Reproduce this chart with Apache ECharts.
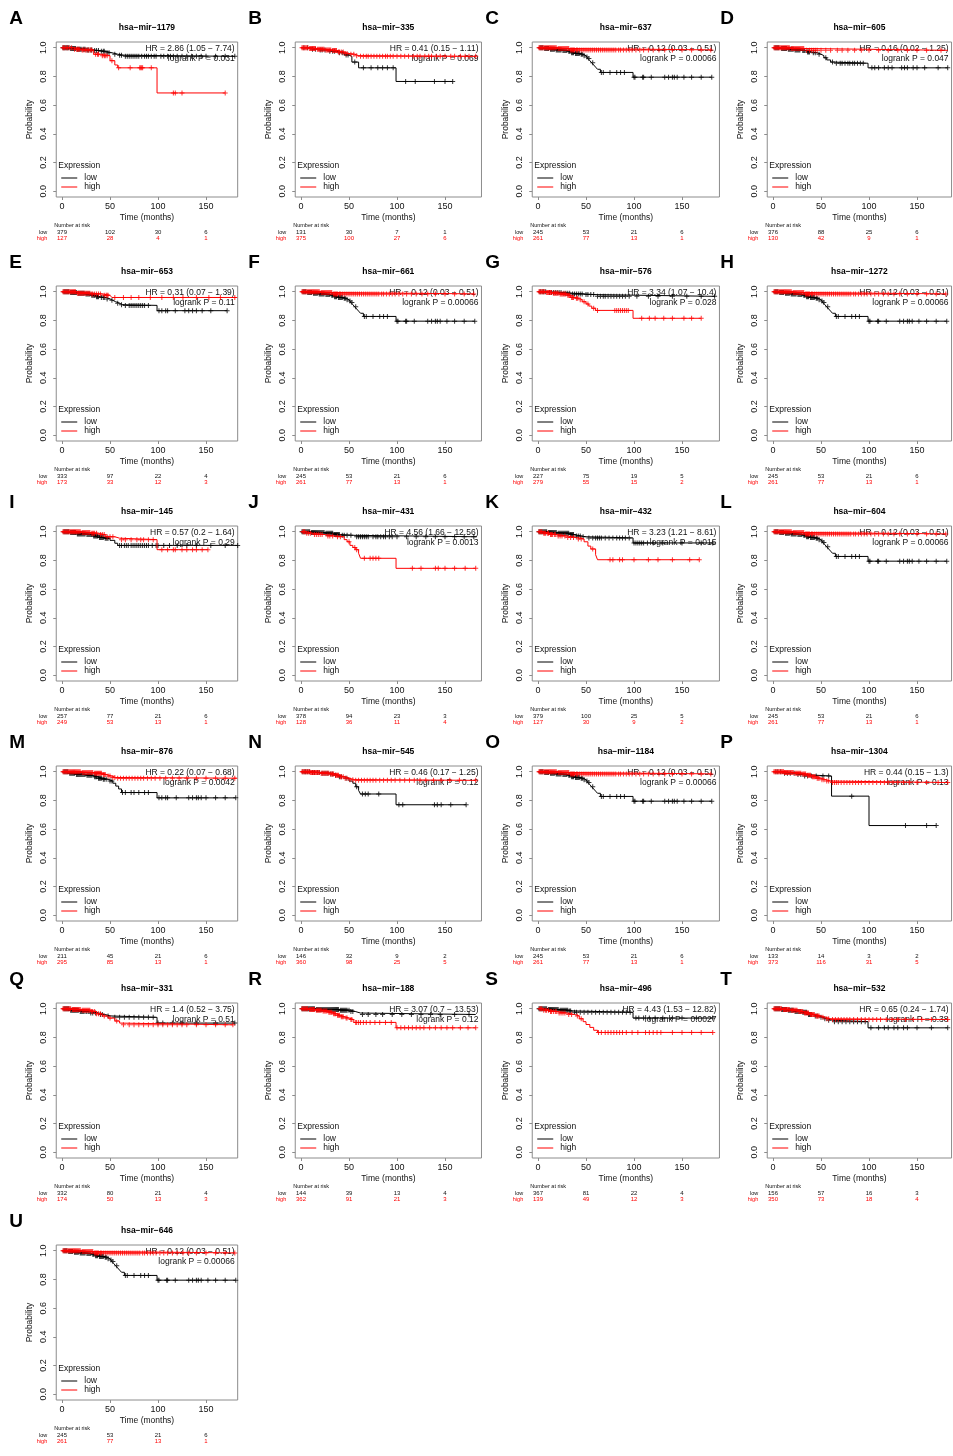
<!DOCTYPE html>
<html><head><meta charset="utf-8">
<script src="https://cdn.jsdelivr.net/npm/echarts@6/dist/echarts.min.js"></script>
<style>html,body{margin:0;padding:0;background:#fff}#c{width:953px;height:1456px}</style>
</head><body><div id="c"></div>
<script>
// ---------------- DATA ----------------
const panelLetters = ['A','B','C','D','E','F','G','H','I','J','K','L','M','N','O','P','Q','R','S','T','U'];
const mirNames = ['1179','335','637','605','653','661','576','1272','145','431','432','604','876','545','1184','1304','331','188','496','532','646'];
const hrTexts = ['2.86 (1.05 − 7.74)','0.41 (0.15 − 1.11)','0.12 (0.03 − 0.51)','0.16 (0.02 − 1.25)','0.31 (0.07 − 1.39)','0.12 (0.03 − 0.51)','3.34 (1.07 − 10.4)','0.12 (0.03 − 0.51)','0.57 (0.2 − 1.64)','4.56 (1.66 − 12.56)','3.23 (1.21 − 8.61)','0.12 (0.03 − 0.51)','0.22 (0.07 − 0.68)','0.46 (0.17 − 1.25)','0.12 (0.03 − 0.51)','0.44 (0.15 − 1.3)','1.4 (0.52 − 3.75)','3.07 (0.7 − 13.53)','4.43 (1.53 − 12.82)','0.65 (0.24 − 1.74)','0.12 (0.03 − 0.51)'];
const pTexts = ['0.031','0.069','0.00066','0.047','0.11','0.00066','0.028','0.00066','0.29','0.0013','0.015','0.00066','0.0042','0.12','0.00066','0.13','0.51','0.12','0.0027','0.38','0.00066'];
const riskTimes = [0,50,100,150];
const riskLow = [[379,102,30,6],[131,30,7,1],[245,53,21,6],[376,88,25,6],[333,97,22,4],[245,53,21,6],[227,75,19,5],[245,53,21,6],[257,77,21,6],[378,94,23,3],[379,100,25,5],[245,53,21,6],[211,45,21,6],[146,32,9,2],[245,53,21,6],[133,14,3,2],[332,80,21,4],[144,39,13,4],[367,81,22,4],[156,57,16,3],[245,53,21,6]];
const riskHigh = [[127,28,4,1],[375,100,27,6],[261,77,13,1],[130,42,9,1],[173,33,12,3],[261,77,13,1],[279,55,15,2],[261,77,13,1],[249,53,13,1],[128,36,11,4],[127,30,9,2],[261,77,13,1],[295,85,13,1],[360,98,25,5],[261,77,13,1],[373,116,31,5],[174,50,13,3],[362,91,21,3],[139,49,12,3],[350,73,18,4],[261,77,13,1]];
const xTicks = [0,50,100,150];
const yTicks = [0,0.2,0.4,0.6,0.8,1.0];

// shared curve (C, F, H, L, O, U)
const SH_LOW_STEPS = [[6,0.995],[12,0.99],[18,0.985],[25,0.98],[31,0.975],[34,0.965],[38,0.96],[44,0.955],[47,0.945],[50,0.935],[52,0.925],[54,0.91],[56,0.895],[58,0.88],[60,0.865],[62,0.85],[65,0.828],[99,0.795]];
const SH_LOW_CENS = [2,3,4,5,7,8,9,10,11,13,14,15,16,17,19,20,21,22,23,24,26,27,28,29,30,32,33,35,36,37,39,40,41,42,43,45,46,48,51,53,57,66,68,75,82,86,90,100,101,109,110,118,132,136,140,142,145,152,160,170,181];
const SH_HIGH_STEPS = [[20,0.995],[33,0.985]];
const SH_HIGH_CENS = [1,2,3,4,5,6,7,8,9,10,11,12,13,14,15,16,17,18,19,21,22,23,24,25,26,27,28,29,30,31,32,34,35,36,37,38,40,41,43,45,47,49,51,53,55,57,59,61,63,65,67,69,71,73,75,77,79,81,84,86,89,92,95,98,102,106,110,115,120,126,132,140,150,160,170,180];

const lowSteps = [
 [[8,0.995],[15,0.99],[25,0.985],[33,0.98],[40,0.975],[46,0.965],[52,0.955],[58,0.948],[64,0.94]],
 [[10,0.99],[18,0.985],[27,0.975],[37,0.965],[45,0.95],[50,0.94],[53,0.9],[60,0.86],[99,0.765]],
 SH_LOW_STEPS,
 [[8,0.995],[15,0.99],[22,0.985],[30,0.98],[35,0.97],[40,0.965],[46,0.955],[50,0.945],[53,0.93],[56,0.915],[60,0.9],[63,0.892],[99,0.86]],
 [[8,0.995],[16,0.99],[24,0.985],[30,0.975],[35,0.965],[40,0.96],[46,0.95],[50,0.94],[53,0.93],[56,0.92],[60,0.91],[63,0.905],[99,0.868]],
 SH_LOW_STEPS,
 [[10,0.995],[25,0.99],[35,0.985],[48,0.98],[60,0.968]],
 SH_LOW_STEPS,
 [[8,0.995],[15,0.985],[25,0.98],[32,0.97],[38,0.96],[44,0.955],[50,0.94],[55,0.92],[58,0.905]],
 [[10,0.995],[25,0.99],[34,0.98],[42,0.975],[55,0.965]],
 [[10,0.995],[20,0.99],[33,0.98],[38,0.97],[45,0.965],[50,0.957],[99,0.922]],
 SH_LOW_STEPS,
 [[7,0.99],[14,0.98],[25,0.975],[33,0.965],[37,0.955],[42,0.948],[48,0.935],[53,0.92],[56,0.9],[59,0.88],[62,0.855],[99,0.818]],
 [[10,0.995],[20,0.99],[30,0.985],[35,0.975],[38,0.965],[45,0.955],[50,0.935],[54,0.92],[57,0.895],[60,0.87],[62,0.845],[99,0.77]],
 SH_LOW_STEPS,
 [[10,0.99],[25,0.98],[32,0.97],[61,0.83],[100,0.625]],
 [[8,0.99],[18,0.98],[30,0.97],[38,0.96],[45,0.95],[50,0.94],[99,0.9]],
 [[15,0.995],[40,0.99],[52,0.98],[57,0.97],[62,0.96]],
 [[10,0.995],[22,0.99],[32,0.985],[36,0.975],[99,0.935]],
 [[8,0.995],[15,0.99],[22,0.98],[30,0.975],[36,0.96],[42,0.95],[48,0.94],[52,0.93],[56,0.92],[62,0.91],[99,0.867]],
 SH_LOW_STEPS
];
const lowEnds = [180,158,181,182,172,181,184,181,183,183,182,181,181,172,181,170,180,182,182,182,181];
const lowCens = [
 [1,2,3,4,5,6,7,9,10,11,12,13,14,16,17,18,19,20,22,23,24,26,27,28,30,31,34,36,38,41,43,44,47,49,55,60,62,66,68,70,72,74,76,78,80,83,86,88,90,93,96,98,103,106,110,113,116,120,125,130,135,140,145,150,160,170,180],
 [3,7,12,15,20,22,25,30,33,35,40,43,47,49,56,65,73,80,85,90,96,109,119,139,150,158],
 SH_LOW_CENS,
 [2,3,4,5,6,9,10,11,12,13,14,16,17,18,19,20,21,23,24,25,26,27,28,31,32,33,36,37,38,42,44,48,55,62,66,70,72,75,78,80,83,85,88,91,94,103,106,110,116,120,124,134,137,140,146,150,158,172,182],
 [2,3,4,5,6,7,9,10,11,12,13,14,15,17,18,19,20,21,22,23,25,26,27,28,29,31,32,33,34,36,37,38,41,43,44,47,52,58,62,66,70,72,74,76,78,80,82,84,86,90,101,104,108,110,118,128,132,136,140,146,155,172],
 SH_LOW_CENS,
 [2,3,5,6,8,12,14,16,18,20,22,24,27,29,31,33,36,38,40,42,44,46,50,52,55,58,62,65,68,70,73,76,79,82,85,88,91,95,103,115,125,140,155,170,184],
 SH_LOW_CENS,
 [2,3,4,5,6,7,9,10,11,12,13,14,16,17,18,19,20,21,22,23,24,26,27,28,29,30,31,33,34,35,36,37,39,40,41,42,43,45,46,47,48,60,62,65,67,69,72,74,76,78,80,82,84,86,88,90,94,98,100,106,112,120,130,140,155,170,183],
 [1,2,3,4,5,6,7,8,9,11,12,13,14,15,16,17,18,19,20,21,22,23,24,26,27,28,29,30,31,32,33,35,36,37,38,39,40,43,45,48,52,58,60,62,64,66,68,70,75,78,80,83,86,88,92,95,100,110,120,130,140,150,160,170,180],
 [1,2,3,4,5,6,7,8,9,11,12,13,14,15,16,17,18,19,21,22,23,24,25,26,27,28,29,30,31,32,34,35,36,37,40,42,44,47,53,57,60,62,64,66,70,74,78,82,85,88,91,95,100,102,104,106,108,110,114,120,130,150,170,182],
 SH_LOW_CENS,
 [2,3,4,5,6,8,9,10,11,12,13,15,16,17,18,19,20,21,22,23,24,26,27,28,29,30,31,34,35,36,38,39,40,41,43,44,46,50,52,63,66,72,75,80,86,90,101,104,108,110,119,132,136,140,142,145,150,160,170,181],
 [2,4,5,7,9,12,14,17,19,22,24,26,28,31,33,36,40,42,47,58,64,67,70,81,102,106,139,142,146,156,172],
 SH_LOW_CENS,
 [3,5,8,12,15,18,22,26,29,33,36,40,45,52,58,82,138,160,170],
 [2,3,4,5,6,7,9,10,11,12,13,14,15,16,17,19,20,21,22,23,25,26,28,30,32,35,40,42,48,55,60,65,70,75,80,85,90,95,100,105,115,125,140,160,180],
 [1,2,3,4,5,6,7,8,9,10,11,12,13,14,16,17,18,19,20,21,22,23,24,25,26,27,28,29,30,31,32,33,34,35,36,37,38,39,41,42,43,44,45,46,47,48,50,52,54,64,70,78,85,95,105,115,125,135,145,160,175],
 [1,2,3,4,5,6,7,8,9,11,12,13,14,15,16,17,18,19,20,21,23,24,25,26,27,28,29,30,31,33,34,38,40,44,48,52,56,60,64,68,72,76,80,84,88,92,96,102,105,110,116,122,130,140,150,165,182],
 [2,3,4,5,6,7,9,10,11,12,13,14,16,17,18,19,20,21,23,24,25,26,27,28,29,31,32,33,34,35,37,38,39,40,44,46,50,54,58,64,68,72,76,80,84,88,92,96,102,110,116,120,126,130,136,140,150,165,182],
 SH_LOW_CENS
];

const highSteps = [
 [[12,0.99],[20,0.985],[33,0.955],[40,0.945],[50,0.91],[55,0.88],[58,0.86],[99,0.685]],
 [[8,0.995],[16,0.99],[25,0.985],[32,0.98],[38,0.97],[45,0.96],[50,0.955],[56,0.945],[60,0.94]],
 SH_HIGH_STEPS,
 [[18,0.995],[33,0.982]],
 [[15,0.99],[30,0.985],[42,0.975],[50,0.965],[52,0.96]],
 SH_HIGH_STEPS,
 [[8,0.995],[15,0.99],[22,0.985],[30,0.975],[34,0.96],[38,0.955],[43,0.945],[46,0.93],[50,0.915],[53,0.9],[56,0.885],[60,0.87],[99,0.815]],
 SH_HIGH_STEPS,
 [[20,0.995],[30,0.99],[38,0.98],[45,0.965],[55,0.955],[60,0.945],[99,0.875]],
 [[5,0.99],[12,0.98],[25,0.97],[35,0.965],[45,0.945],[48,0.93],[51,0.905],[54,0.89],[57,0.875],[60,0.85],[62,0.815],[99,0.745]],
 [[5,0.99],[12,0.98],[20,0.97],[30,0.96],[40,0.95],[48,0.93],[52,0.9],[55,0.88],[60,0.84],[62,0.805]],
 SH_HIGH_STEPS,
 [[20,0.995],[33,0.99],[42,0.98],[47,0.97],[52,0.96],[56,0.955]],
 [[10,0.995],[20,0.99],[30,0.985],[35,0.975],[40,0.965],[45,0.955],[50,0.945],[56,0.94]],
 SH_HIGH_STEPS,
 [[12,0.995],[22,0.99],[30,0.985],[35,0.975],[40,0.965],[45,0.955],[50,0.945],[55,0.935],[60,0.925]],
 [[10,0.995],[20,0.99],[30,0.98],[36,0.965],[42,0.95],[48,0.935],[55,0.915],[60,0.9],[62,0.888]],
 [[8,0.995],[15,0.99],[22,0.985],[28,0.975],[33,0.965],[37,0.955],[41,0.945],[45,0.935],[50,0.925],[55,0.905],[99,0.867]],
 [[5,0.99],[12,0.98],[20,0.97],[30,0.96],[38,0.95],[43,0.93],[47,0.91],[50,0.89],[54,0.87],[58,0.85],[62,0.835]],
 [[10,0.995],[18,0.99],[26,0.98],[32,0.97],[38,0.96],[44,0.95],[50,0.94],[55,0.93],[60,0.925]],
 SH_HIGH_STEPS
];
const highEnds = [170,182,180,182,182,180,170,180,152,182,168,180,182,182,180,182,178,182,182,182,180];
const highCens = [
 [1,2,3,5,6,8,10,13,15,16,17,18,21,22,24,25,27,28,30,31,35,37,38,42,44,45,47,52,59,71,81,82,83,84,93,116,118,125,170],
 [1,2,3,4,5,6,7,9,10,11,12,13,14,15,17,18,19,20,21,22,23,24,26,27,28,29,30,31,33,34,35,36,37,39,40,42,44,46,48,52,55,58,62,65,68,70,73,76,79,82,85,88,90,93,96,100,104,108,112,117,121,124,129,133,136,141,145,150,156,160,166,171,175,182],
 SH_HIGH_CENS,
 [1,2,3,4,5,6,7,8,9,10,11,12,13,14,15,16,17,19,20,21,22,23,24,25,26,27,28,29,30,31,32,35,38,40,42,44,46,50,55,60,67,72,78,85,92,100,110,120,130,140,150,160,175],
 [1,2,3,4,5,6,7,8,9,10,11,12,13,14,16,17,18,19,20,21,22,23,24,25,26,27,28,29,31,32,34,36,38,40,44,46,47,48,55,64,72,80,92,104,116,126,140,153,165,180],
 SH_HIGH_CENS,
 [1,2,3,4,5,6,7,9,10,11,12,13,14,16,17,18,19,20,21,23,24,25,26,27,28,29,31,32,33,35,36,37,40,41,44,48,52,58,62,80,82,84,86,88,90,92,94,108,116,122,131,140,152,160,170],
 SH_HIGH_CENS,
 [1,2,3,4,5,6,7,8,9,10,11,12,13,14,15,16,17,18,19,21,22,23,24,25,26,27,28,29,31,32,33,34,36,40,42,44,47,50,53,62,66,72,78,82,85,90,95,104,110,116,118,125,130,136,140,146,152],
 [2,3,4,6,8,10,14,16,18,20,22,28,30,33,38,41,50,56,58,66,72,75,78,81,116,125,140,143,150,160,171,182],
 [1,2,3,4,6,7,8,10,11,13,14,15,17,18,21,23,25,28,31,34,37,42,45,57,75,78,85,88,100,115,125,140,158,168],
 SH_HIGH_CENS,
 [1,2,3,4,5,6,7,8,9,10,11,12,13,14,15,16,17,18,19,21,22,23,24,25,26,27,28,29,30,31,32,34,35,36,37,38,39,40,41,43,44,45,48,50,53,55,58,61,64,67,70,73,76,79,82,85,89,93,97,102,108,115,122,130,140,150,160,170,180],
 [1,2,3,4,5,6,7,8,9,10,11,12,13,14,15,16,17,18,19,21,22,23,24,25,26,27,28,29,31,32,33,34,36,37,38,39,41,42,44,46,48,51,54,57,60,63,66,69,72,75,78,82,86,90,94,98,103,108,113,118,124,130,138,146,155,165,182],
 SH_HIGH_CENS,
 [1,2,3,4,5,6,7,8,9,10,11,12,13,14,15,16,17,18,19,20,21,23,24,25,26,27,28,29,31,32,33,34,36,37,38,39,41,42,43,44,46,47,48,51,53,56,58,62,64,66,68,71,74,77,80,83,86,89,92,96,100,104,108,112,116,120,125,130,136,142,150,160,172,182],
 [1,2,3,4,5,6,7,8,9,11,12,13,14,15,16,17,18,19,21,22,23,24,25,26,27,28,29,31,32,34,36,38,40,44,50,57,64,70,75,80,85,90,95,100,105,110,115,120,125,130,140,150,160,170,178],
 [1,2,3,4,5,6,7,9,10,11,12,13,14,16,17,18,19,20,21,23,24,25,26,27,29,30,31,32,34,35,36,38,39,40,42,43,44,47,48,52,53,57,58,60,62,65,68,72,77,82,88,94,100,104,108,112,116,120,124,128,134,140,146,152,158,166,174,182],
 [2,3,4,6,8,9,11,13,14,16,18,19,22,24,26,28,32,35,41,45,63,66,70,73,76,79,82,85,88,92,98,104,112,116,120,124,128,140,150,160,170,182],
 [1,2,3,4,5,6,7,8,9,11,12,13,14,15,16,17,19,20,21,22,23,24,25,27,28,29,30,31,33,34,35,36,37,39,40,41,42,43,45,46,47,48,52,56,58,62,65,68,71,74,77,80,84,88,92,96,100,104,108,112,118,124,130,138,146,155,165,182],
 SH_HIGH_CENS
];

// ---------------- LAYOUT ----------------
const colX0 = [62, 301, 538, 773];     // pixel of time 0
const colXMax = [183, 188, 189, 186];
const rowTop = [42, 286, 526, 766, 1003, 1245];
const PX = 0.96, XMIN = -6, BOX_H = 155;
const FONT = '"Liberation Sans", Arial, sans-serif';
const PLUS = 'path://M4,0h2v10h-2zM0,4h10v2h-10z';

function stepData(steps, end) {
  const d = [[0, 1]];
  steps.forEach(s => d.push(s));
  d.push([end, d[d.length - 1][1]]);
  return d;
}
function survAt(steps, t) {
  let v = 1;
  for (const s of steps) if (s[0] <= t) v = s[1];
  return v;
}

const chart = echarts.init(document.getElementById('c'), null, {renderer: 'canvas'});
const grids = [], xAxes = [], yAxes = [], series = [], rects = [];
for (let i = 0; i < panelLetters.length; i++) {
  const col = i % 4, row = Math.floor(i / 4);
  const left = colX0[col] + XMIN * PX;
  const width = (colXMax[col] - XMIN) * PX;
  const top = rowTop[row];
  rects.push({left, top, width, right: left + width});
  grids.push({left, top, width, height: BOX_H, show: true, borderColor: '#8c8c8c', borderWidth: 1, backgroundColor: 'transparent'});
  xAxes.push({
    type: 'value', gridIndex: i, min: XMIN, max: colXMax[col], position: 'bottom',
    axisLine: {show: false, onZero: false}, splitLine: {show: false},
    axisTick: {show: true, length: 3, customValues: xTicks, lineStyle: {color: '#8c8c8c'}},
    axisLabel: {customValues: xTicks, margin: 5, fontSize: 9, color: '#111', fontFamily: FONT},
    name: 'Time (months)', nameLocation: 'middle', nameGap: 16,
    nameTextStyle: {fontSize: 8.5, color: '#111', fontFamily: FONT}
  });
  yAxes.push({
    type: 'value', gridIndex: i, min: -0.04, max: 1.04, position: 'left',
    axisLine: {show: false, onZero: false}, splitLine: {show: false},
    axisTick: {show: true, length: 3, customValues: yTicks, lineStyle: {color: '#8c8c8c'}},
    axisLabel: {customValues: yTicks, rotate: 90, margin: 8, fontSize: 9, color: '#111', fontFamily: FONT,
      formatter: v => v.toFixed(1)},
    name: 'Probability', nameLocation: 'middle', nameGap: 22,
    nameTextStyle: {fontSize: 8.5, color: '#111', fontFamily: FONT}
  });
  const common = {xAxisIndex: i, yAxisIndex: i, silent: true, animation: false};
  series.push(Object.assign({type: 'line', step: 'end', showSymbol: false, z: 3,
    data: stepData(lowSteps[i], lowEnds[i]), lineStyle: {color: '#000', width: 1}}, common));
  series.push(Object.assign({type: 'scatter', symbol: PLUS, symbolSize: 5, z: 3,
    data: lowCens[i].map(t => [t, survAt(lowSteps[i], t)]), itemStyle: {color: '#000'}}, common));
  series.push(Object.assign({type: 'line', step: 'end', showSymbol: false, z: 4,
    data: stepData(highSteps[i], highEnds[i]), lineStyle: {color: '#ff0000', width: 1}}, common));
  series.push(Object.assign({type: 'scatter', symbol: PLUS, symbolSize: 5, z: 4,
    data: highCens[i].map(t => [t, survAt(highSteps[i], t)]), itemStyle: {color: '#ff0000'}}, common));
}
chart.setOption({animation: false, grid: grids, xAxis: xAxes, yAxis: yAxes, series: series});

// texts (positions derived from grid rects and the axis scales)
const g = [];
function txt(x, y, text, opt) {
  g.push({type: 'text', x, y, z: 1, silent: true,
    style: Object.assign({text, fontFamily: FONT, fontSize: 8.5, fill: '#111', textVerticalAlign: 'middle', textAlign: 'left'}, opt || {})});
}
for (let i = 0; i < panelLetters.length; i++) {
  const r = rects[i];
  const T = r.top, L = r.left, R = r.right;
  txt(L - 47, T - 23, panelLetters[i], {fontSize: 19, fontWeight: 'bold', fill: '#000'});
  txt((L + R) / 2, T - 14, 'hsa−mir−' + mirNames[i], {fontWeight: 'bold', textAlign: 'center', fill: '#000'});
  txt(R - 3, T + 7, 'HR = ' + hrTexts[i], {textAlign: 'right'});
  txt(R - 3, T + 17, 'logrank P = ' + pTexts[i], {textAlign: 'right'});
  txt(L + 2, T + 124, 'Expression');
  g.push({type: 'line', z: 1, silent: true, shape: {x1: L + 5, y1: T + 136, x2: L + 21, y2: T + 136}, style: {stroke: '#000', lineWidth: 1}});
  g.push({type: 'line', z: 1, silent: true, shape: {x1: L + 5, y1: T + 145, x2: L + 21, y2: T + 145}, style: {stroke: '#ff0000', lineWidth: 1}});
  txt(L + 28, T + 136, 'low');
  txt(L + 28, T + 145, 'high');
  txt(L - 2, T + 183, 'Number at risk', {fontSize: 5.5});
  txt(L - 9, T + 190, 'low', {fontSize: 5.5, textAlign: 'right'});
  txt(L - 9, T + 196.5, 'high', {fontSize: 5.5, textAlign: 'right', fill: '#ff0000'});
  riskTimes.forEach((t, k) => {
    const px = chart.convertToPixel({xAxisIndex: i}, t);
    txt(px, T + 190, String(riskLow[i][k]), {fontSize: 6, textAlign: 'center'});
    txt(px, T + 196.5, String(riskHigh[i][k]), {fontSize: 6, textAlign: 'center', fill: '#ff0000'});
  });
}
chart.setOption({graphic: {elements: g}});
</script></body></html>
